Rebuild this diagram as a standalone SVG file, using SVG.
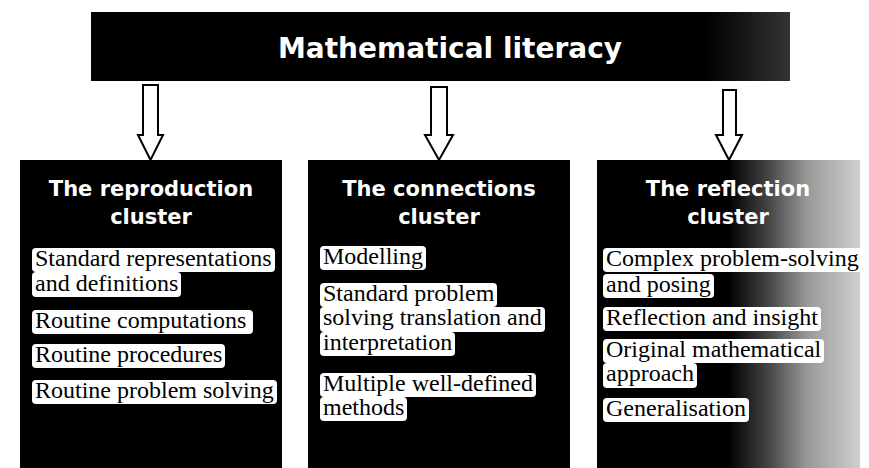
<svg xmlns="http://www.w3.org/2000/svg" width="869" height="468" viewBox="0 0 869 468">
<defs>
<linearGradient id="hdrFade" x1="0" y1="0" x2="1" y2="0">
<stop offset="0" stop-color="#000"/>
<stop offset="0.88" stop-color="#000"/>
<stop offset="1" stop-color="#333"/>
</linearGradient>
<linearGradient id="rightFade" x1="0" y1="0" x2="1" y2="0">
<stop offset="0" stop-color="#000"/>
<stop offset="0.5" stop-color="#000"/>
<stop offset="0.65" stop-color="#444"/>
<stop offset="0.8" stop-color="#999"/>
<stop offset="1" stop-color="#cfcfcf"/>
</linearGradient>
</defs>
<style>
.box{fill:#000}
.hd{font-family:"DejaVu Sans",sans-serif;font-weight:bold;fill:#fff;text-anchor:middle}
.lb{font-family:"Liberation Serif",serif;font-size:24px;fill:#000}
.hl{fill:#fff}
.arr{fill:#fff;stroke:#000;stroke-width:2}
</style>

<g id="header">
<rect x="91" y="12" width="699" height="69" fill="url(#hdrFade)"/>
<text class="hd" x="450" y="58" font-size="28">Mathematical literacy</text>
</g>

<g id="connectors">
<polygon class="arr" points="143,85 158,85 158,135 163,135 150.5,160 138,135 143,135"/>
<polygon class="arr" points="431,87 447,87 447,135 453,135 439,160 425,135 431,135"/>
<polygon class="arr" points="723,90 736,90 736,135 742,135 729,160 716,135 723,135"/>
</g>

<g id="reproduction">
<rect class="box" x="20" y="160" width="262" height="308"/>
<text class="hd" x="151" y="196" font-size="21">The reproduction</text>
<text class="hd" x="151" y="224" font-size="21">cluster</text>
<rect class="hl" x="32" y="248" width="243" height="24" rx="4"/>
<rect class="hl" x="32" y="272" width="149" height="25" rx="4"/>
<rect class="hl" x="32" y="310" width="221" height="24" rx="4"/>
<rect class="hl" x="32" y="344" width="193" height="24" rx="4"/>
<rect class="hl" x="32" y="380" width="245" height="24" rx="4"/>
<text class="lb" x="35" y="266">Standard representations</text>
<text class="lb" x="35" y="291">and definitions</text>
<text class="lb" x="35" y="328">Routine computations</text>
<text class="lb" x="35" y="362">Routine procedures</text>
<text class="lb" x="35" y="398">Routine problem solving</text>
</g>

<g id="connections">
<rect class="box" x="308" y="160" width="262" height="308"/>
<text class="hd" x="439" y="196" font-size="21">The connections</text>
<text class="hd" x="439" y="224" font-size="21">cluster</text>
<rect class="hl" x="320" y="246" width="106" height="24" rx="4"/>
<rect class="hl" x="320" y="283" width="177" height="24" rx="4"/>
<rect class="hl" x="320" y="307" width="225" height="25" rx="4"/>
<rect class="hl" x="320" y="332" width="135" height="24" rx="4"/>
<rect class="hl" x="320" y="373" width="216" height="24" rx="4"/>
<rect class="hl" x="320" y="397" width="87" height="24" rx="4"/>
<text class="lb" x="323" y="264">Modelling</text>
<text class="lb" x="323" y="301">Standard problem</text>
<text class="lb" x="323" y="325">solving translation and</text>
<text class="lb" x="323" y="350">interpretation</text>
<text class="lb" x="323" y="391">Multiple well-defined</text>
<text class="lb" x="323" y="415">methods</text>
</g>

<g id="reflection">
<rect x="597" y="160" width="263" height="308" fill="url(#rightFade)"/>
<text class="hd" x="728" y="196" font-size="21">The reflection</text>
<text class="hd" x="728" y="224" font-size="21">cluster</text>
<rect class="hl" x="603" y="248" width="259" height="24" rx="4"/>
<rect class="hl" x="603" y="274" width="111" height="24" rx="4"/>
<rect class="hl" x="603" y="307" width="218" height="24" rx="4"/>
<rect class="hl" x="603" y="339" width="221" height="24" rx="4"/>
<rect class="hl" x="603" y="363" width="94" height="25" rx="4"/>
<rect class="hl" x="603" y="398" width="146" height="24" rx="4"/>
<text class="lb" x="606" y="266">Complex problem-solving</text>
<text class="lb" x="606" y="292">and posing</text>
<text class="lb" x="606" y="325">Reflection and insight</text>
<text class="lb" x="606" y="357">Original mathematical</text>
<text class="lb" x="606" y="381">approach</text>
<text class="lb" x="606" y="416">Generalisation</text>
</g>
</svg>
